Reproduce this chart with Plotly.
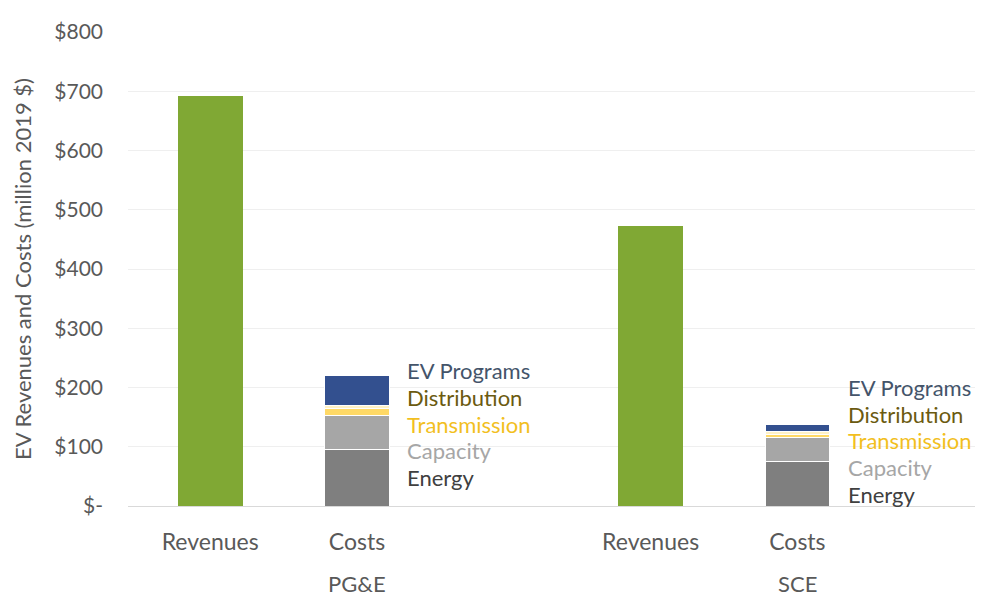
import plotly.graph_objects as go

# ---- data ----
groups = ["PG&E", "SCE"]
categories = ["Revenues", "Costs"]
revenues = [692, 472]
energy = [95, 75]
capacity = [57, 40]
transmission = [12, 5]
distribution = [5, 5]
ev_programs = [51, 12]

cost_components = ["Energy", "Capacity", "Transmission", "Distribution", "EV Programs"]
cost_values = [energy, capacity, transmission, distribution, ev_programs]

y_tick_vals = [0, 100, 200, 300, 400, 500, 600, 700, 800]
y_tick_text = ["$-", "$100", "$200", "$300", "$400", "$500", "$600", "$700", "$800"]

# ---- styles ----
FONT = "Lato, 'Open Sans', sans-serif"
TEXT = "#595959"
bar_colors = {
    "Energy": "#7F7F7F",
    "Capacity": "#A6A6A6",
    "Transmission": "#FFD966",
    "Distribution": "#FFF2C6",
    "EV Programs": "#33508F",
}
label_colors = {
    "Energy": "#404040",
    "Capacity": "#A6A6A6",
    "Transmission": "#F2BF1F",
    "Distribution": "#6B5A10",
    "EV Programs": "#44546A",
}
label_top = [228, 200]   # label stack top per group (axis units)
label_step = 45

slots = 3  # Revenues, Costs, blank spacer per group
rev_x = [g * slots + 0 for g in range(len(groups))]
cost_x = [g * slots + 1 for g in range(len(groups))]

fig = go.Figure()
fig.add_trace(go.Bar(
    x=rev_x, y=revenues, name="Revenues", width=0.44,
    marker=dict(color="#80A834", line=dict(width=0)),
    showlegend=False,
))
for comp, vals in zip(cost_components, cost_values):
    fig.add_trace(go.Bar(
        x=cost_x, y=vals, name=comp, width=0.44,
        marker=dict(color=bar_colors[comp], line=dict(color="white", width=1)),
        showlegend=False,
    ))

# component labels beside cost bars (top to bottom: EV Programs ... Energy)
for g in range(len(groups)):
    for i, comp in enumerate(reversed(cost_components)):
        fig.add_annotation(
            x=cost_x[g] + 0.33, y=label_top[g] - i * label_step,
            text=comp, showarrow=False, xanchor="left", yanchor="middle",
            font=dict(family=FONT, size=22, color=label_colors[comp]),
        )

# group labels
for g, name in enumerate(groups):
    fig.add_annotation(
        x=cost_x[g], y=0, xref="x", yref="paper", yshift=-77,
        text=name, showarrow=False, xanchor="center", yanchor="middle",
        font=dict(family=FONT, size=22, color=TEXT),
    )

# y-axis title
fig.add_annotation(
    x=0, y=0.5, xref="paper", yref="paper", xshift=-106,
    text="EV Revenues and Costs (million 2019 $)", textangle=-90,
    showarrow=False, xanchor="center", yanchor="middle",
    font=dict(family=FONT, size=22, color=TEXT),
)

fig.update_layout(
    width=977, height=588,
    margin=dict(l=120, r=10, t=18, b=90),
    barmode="stack",
    plot_bgcolor="white", paper_bgcolor="white",
    font=dict(family=FONT, color=TEXT, size=21),
    xaxis=dict(
        range=[-0.56, 5.21],
        tickvals=rev_x + cost_x,
        ticktext=[categories[0]] * len(groups) + [categories[1]] * len(groups),
        showgrid=False, zeroline=False, showline=False,
        ticks="", ticklabelstandoff=20,
        tickfont=dict(family=FONT, size=23, color=TEXT),
    ),
    yaxis=dict(
        range=[0, 800],
        tickvals=y_tick_vals, ticktext=y_tick_text,
        showgrid=True, gridcolor="#EFEFEF", gridwidth=1,
        zeroline=True, zerolinecolor="#D9D9D9", zerolinewidth=1,
        showline=False, ticks="", ticklabelstandoff=24,
        tickfont=dict(family=FONT, size=21, color=TEXT),
    ),
)

fig.write_html("out.html")
